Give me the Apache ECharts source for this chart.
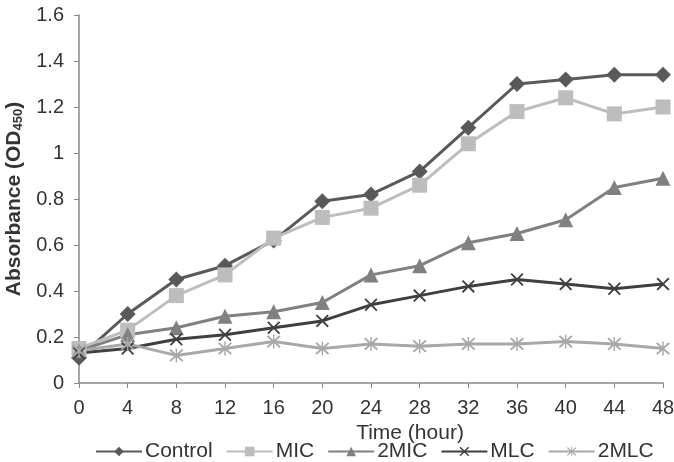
<!DOCTYPE html>
<html>
<head>
<meta charset="utf-8">
<script src="https://cdn.jsdelivr.net/npm/echarts@6/dist/echarts.min.js"></script>
<style>
  html, body { margin: 0; padding: 0; background: #fff; }
  #main-chart-1 { width: 674px; height: 462px; }
</style>
</head>
<body>
<div id="main-chart-1"></div>
<script>
// Veriler
const hours = [0, 4, 8, 12, 16, 20, 24, 28, 32, 36, 40, 44, 48];
const control = [0.11, 0.30, 0.45, 0.51, 0.62, 0.79, 0.82, 0.92, 1.11, 1.30, 1.32, 1.34, 1.34];
const mic     = [0.15, 0.23, 0.38, 0.47, 0.63, 0.72, 0.76, 0.86, 1.04, 1.18, 1.24, 1.17, 1.20];
const mic2    = [0.14, 0.21, 0.24, 0.29, 0.31, 0.35, 0.47, 0.51, 0.61, 0.65, 0.71, 0.85, 0.89];
const mlc     = [0.13, 0.15, 0.19, 0.21, 0.24, 0.27, 0.34, 0.38, 0.42, 0.45, 0.43, 0.41, 0.43];
const mlc2    = [0.14, 0.17, 0.12, 0.15, 0.18, 0.15, 0.17, 0.16, 0.17, 0.17, 0.18, 0.17, 0.15];

// Özel semboller (X ve yıldız)
const xPath = 'path://M2,0 L10,8 L18,0 L20,2 L12,10 L20,18 L18,20 L10,12 L2,20 L0,18 L8,10 L0,2 Z';
const starPath = 'path://M2,0 L10,8 L18,0 L20,2 L12,10 L20,18 L18,20 L10,12 L2,20 L0,18 L8,10 L0,2 Z M9,-1 L11,-1 L11,21 L9,21 Z';

function pairs(arr) {
    return hours.map((h, i) => [h, arr[i]]);
}

function makeSeries(name, arr, color, symbol, size) {
    return {
        name: name,
        type: 'line',
        data: pairs(arr),
        symbol: symbol,
        symbolSize: size,
        showAllSymbol: true,
        lineStyle: { color: color, width: 3 },
        itemStyle: { color: color },
        emphasis: { disabled: true }
    };
}

const chart = echarts.init(document.getElementById('main-chart-1'));

chart.setOption({
    animation: false,
    textStyle: { fontFamily: 'Liberation Sans, Arial, sans-serif' },
    grid: { left: 79, right: 11, top: 15, bottom: 79, containLabel: false, outerBoundsMode: 'none' },
    legend: {
        top: 441,
        left: 95,
        padding: 0,
        itemWidth: 46,
        itemHeight: 12,
        itemGap: 13,
        textStyle: { fontSize: 21, color: '#333', padding: [0, 0, 0, -2] },
        data: ['Control', 'MIC', '2MIC', 'MLC', '2MLC']
    },
    xAxis: {
        type: 'value',
        min: 0,
        max: 48,
        interval: 4,
        name: 'Time (hour)',
        nameLocation: 'middle',
        nameGap: 35,
        nameTextStyle: { fontSize: 21, color: '#333', padding: [0, 0, 0, 78] },
        axisLine: { lineStyle: { color: '#888', width: 1.5 } },
        axisTick: { show: true, inside: false, length: 5, lineStyle: { color: '#888' } },
        axisLabel: { fontSize: 20, color: '#333', margin: 15 },
        splitLine: { show: false }
    },
    yAxis: {
        type: 'value',
        min: 0,
        max: 1.6,
        interval: 0.2,
        name: '{a|Absorbance (OD}{s|450}{a|)}',
        nameLocation: 'middle',
        nameRotate: 90,
        nameGap: 51,
        nameTextStyle: {
            rich: {
                a: { fontSize: 21, fontWeight: 'bold', color: '#333' },
                s: { fontSize: 13, fontWeight: 'bold', color: '#333', verticalAlign: 'bottom', padding: [10, 0, 0, 0] }
            }
        },
        axisLine: { show: true, lineStyle: { color: '#888', width: 1.5 } },
        axisTick: { show: true, length: 5, lineStyle: { color: '#888' } },
        axisLabel: { fontSize: 20, color: '#333', margin: 15 },
        splitLine: { show: false }
    },
    series: [
        makeSeries('Control', control, '#595959', 'diamond', 16),
        makeSeries('MIC', mic, '#bdbdbd', 'rect', 15),
        makeSeries('2MIC', mic2, '#808080', 'triangle', 15),
        makeSeries('MLC', mlc, '#3f3f3f', xPath, 13),
        makeSeries('2MLC', mlc2, '#a8a8a8', starPath, 14)
    ]
});
</script>
</body>
</html>
